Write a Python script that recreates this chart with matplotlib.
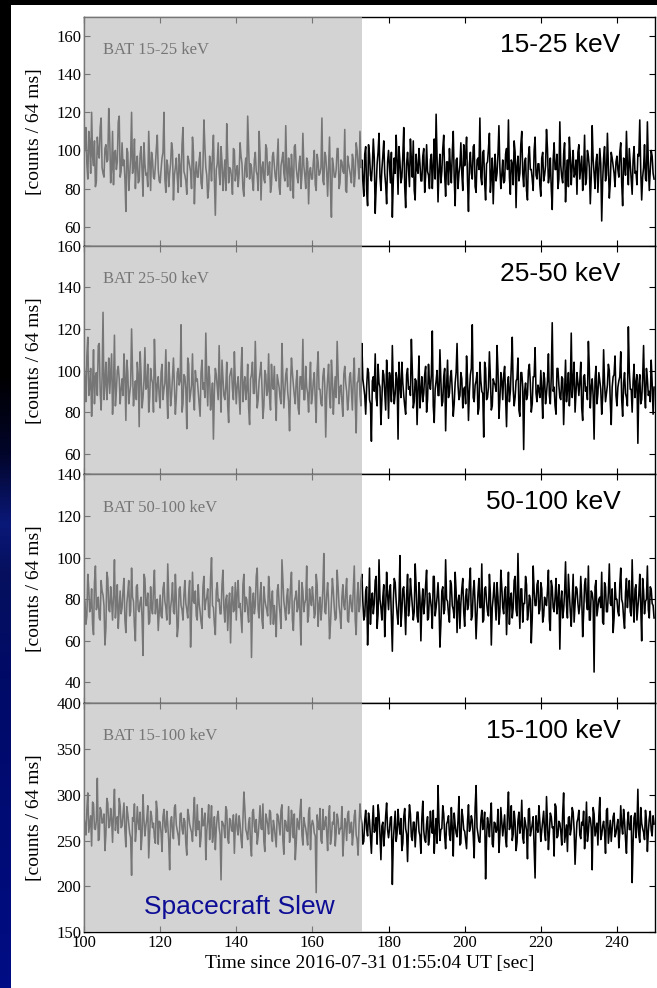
import matplotlib
matplotlib.use('Agg')
import matplotlib.pyplot as plt
import numpy as np
from matplotlib.colors import LinearSegmentedColormap

# BAT light curves: one value every 0.25 s from t = 100 s.
# "_a" holds the samples at 100.0, 100.5, ... and "_b" those at 100.25, 100.75, ...
t_start = 100.0
bin_sec = 0.25
slew_end = 173.0

rate_15_25_a = """
98 112 85 104 120 92 81 107 96 117 88 101 94 122 83 110 99 90 115 86
104 95 68 99 87 120 91 80 97 84 102 76 93 88 110 79 95 85 101 90
83 96 120 78 92 88 104 74 91 86 98 81 112 87 77 95 89 107 72 94
86 99 80 116 91 75 97 84 108 66 93 88 102 79 95 114 83 90 77 100
89 81 104 93 76 96 118 85 91 79 99 87 110 74 94 83 101 89 78 97
92 84 106 77 95 88 113 81 90 98 75 103 86 93 80 109 87 96 72 91
85 100 79 94 88 117 82 97 76 107 65 92 86 101 80 95 89 111 78 93
87 98 81 104 92 110 95 76 102 71 98 84 106 67 93 109 79 97 88 72
100 83 65 96 108 77 94 86 112 70 99 81 95 105 74 90 101 84 97 78
103 87 95 80 106 119 73 98 89 108 76 94 101 83 110 71 96 88 104 79
92 107 68 99 85 103 78 96 117 82 100 74 94 109 86 72 98 88 113 80
95 84 101 116 77 93 105 70 97 88 110 81 96 74 102 90 79 107 85 93
76 99 87 111 83 96 69 104 90 80 115 86 98 73 95 107 82 100 88 77
103 91 79 108 85 97 72 113 88 94 78 101 63 96 84 109 75 99 92 81
97 86 104 71 95 110 82 93 77 102 89 98 116 74 91 85 115 79 100 88
"""
rate_15_25_b = """
101 93 110 88 97 105 84 99 112 91 86 103 95 108 90 82 100 94 118 89
92 85 101 79 96 88 106 93 83 98 90 104 87 81 95 99 86 92 108 84
90 99 85 95 81 93 100 87 96 78 91 103 89 84 97 92 80 99 88 86
95 83 92 102 87 80 93 98 85 90 104 82 94 88 79 96 91 86 101 84
92 88 97 80 91 86 101 93 84 95 89 79 98 91 85 103 87 94 82 99
86 95 81 92 99 84 90 96 79 88 102 91 83 97 87 92 80 94 89 85
94 82 98 87 91 84 99 89 92 80 96 86 90 101 83 94 88 79 97 90
83 95 88 100 85 91 84 98 79 103 87 92 96 81 99 86 90 105 82 94
91 99 84 88 95 102 83 97 81 93 90 106 86 79 98 88 93 84 101 87
89 80 98 92 85 97 90 83 101 87 94 82 91 99 86 95 80 92 88 103
97 84 93 88 102 81 95 90 86 99 83 93 101 78 96 89 84 98 91 87
83 98 90 86 95 82 99 92 84 103 88 94 79 97 90 85 100 87 93 82
96 84 92 101 87 80 95 90 98 85 92 83 104 88 81 97 92 86 95 99
85 97 89 82 100 91 86 95 80 98 89 93 84 102 87 91 83 96 88 94
90 99 83 96 87 92 101 85 95 88 82 97 90 86 103 84 93 89 97 85
"""

rate_25_50_a = """
104 85 116 92 78 110 97 88 113 81 128 94 86 106 99 79 117 90 102 84
96 108 76 99 89 120 83 95 104 73 98 87 111 92 80 101 94 115 85 97
82 103 91 110 77 96 88 106 79 99 93 122 84 97 72 103 89 108 81 95
90 78 105 94 118 83 97 87 67 101 92 112 80 96 86 104 75 99 91 109
84 97 79 111 93 86 103 74 98 89 114 82 95 104 77 100 88 108 81 93
102 76 95 87 113 82 98 90 71 106 93 84 100 79 97 115 86 92 80 104
88 99 75 109 91 83 101 68 96 87 105 79 97 114 84 93 78 102 90 86
99 81 106 70 95 88 113 92 79 101 86 66 97 108 83 94 74 100 89 105
77 96 112 84 99 67 93 104 88 79 101 92 115 82 96 74 107 90 85 98
80 103 91 119 75 95 88 110 83 97 71 105 89 100 78 94 113 86 99 82
92 107 76 98 122 85 95 79 104 90 68 101 87 109 81 96 93 112 77 99
86 102 73 97 90 116 83 95 106 78 99 62 94 88 103 80 97 111 85 91
100 77 96 89 108 84 123 92 79 101 87 97 74 105 91 83 118 95 80 99
88 104 76 98 92 114 82 96 67 102 89 95 79 110 85 93 100 74 97 107
83 95 109 78 99 87 121 91 80 103 94 65 98 86 112 82 96 90 105 79
"""
rate_25_50_b = """
96 107 88 101 93 84 99 112 90 97 86 104 95 89 108 92 83 100 96 91
88 97 105 84 93 100 90 86 98 109 82 95 91 103 87 96 80 99 93 88
99 86 94 90 104 83 97 92 87 101 95 80 98 91 106 85 93 88 100 96
84 99 91 87 96 102 81 94 90 98 86 93 105 88 92 83 97 101 86 94
93 88 100 85 97 91 82 96 104 89 94 86 99 92 83 98 90 87 103 91
87 98 92 84 96 90 101 85 93 99 88 95 82 97 91 86 102 89 94 84
95 86 100 91 84 97 93 88 103 82 96 90 87 99 92 85 98 94 81 97
90 97 85 94 101 83 96 88 92 99 84 95 90 87 103 92 86 98 81 96
99 85 92 89 96 104 87 94 83 98 91 88 100 85 95 92 82 97 89 102
86 94 98 83 91 100 88 95 85 101 92 87 97 90 84 99 93 88 96 91
84 96 90 101 87 93 99 82 95 89 104 86 92 97 83 94 90 100 86 95
98 88 93 85 102 91 87 96 81 99 92 90 86 100 94 84 97 89 93 87
91 99 84 95 88 97 90 83 101 93 86 96 90 85 99 92 87 104 89 94
95 82 97 90 86 101 92 88 96 84 99 91 87 94 89 103 85 92 98 88
92 97 86 94 89 83 100 91 95 87 98 93 84 96 90 101 88 85 94 92
"""

rate_50_100_a = """
80 68 92 74 85 63 96 77 71 89 82 58 93 75 86 70 99 78 66 84
76 90 64 83 72 95 79 60 87 74 81 53 90 77 68 86 73 94 79 65
82 71 88 76 97 68 80 74 92 62 85 77 70 89 75 83 57 93 78 72
87 74 66 91 79 85 71 100 76 63 88 80 73 94 69 82 77 59 86 75
70 89 78 64 92 81 74 86 52 83 77 95 71 88 66 80 75 91 68 84
77 62 87 73 99 79 70 85 76 93 65 81 74 89 58 84 78 96 72 80
86 71 92 67 81 76 102 73 88 61 79 84 70 94 77 66 87 75 90 69
82 74 96 63 88 77 92 70 84 58 95 79 73 89 66 99 76 81 62 93
75 87 55 90 79 68 101 74 86 63 92 77 83 70 97 72 88 60 85 78
94 71 80 66 91 76 88 57 84 73 99 79 69 87 75 93 64 82 78 90
67 85 77 95 72 89 61 83 76 97 70 86 74 92 58 81 79 88 68 94
76 84 63 93 80 71 89 75 102 66 85 78 91 70 82 59 96 77 87 73
88 69 81 77 94 65 86 74 90 79 56 84 75 98 71 83 67 92 78 85
73 91 62 87 79 96 70 83 45 89 76 81 93 68 86 74 97 77 64 88
80 72 95 78 66 90 83 74 99 69 87 76 92 60 84 79 96 71 85 77
"""
rate_50_100_b = """
79 72 85 76 68 88 75 81 70 84 77 66 90 74 79 82 71 87 76 73
84 70 78 89 74 81 67 86 75 79 71 92 77 83 69 76 85 73 80 74
72 85 79 70 83 76 88 73 80 67 86 75 82 78 71 89 74 79 84 70
78 69 86 75 81 72 90 77 68 84 79 73 87 76 80 65 83 78 74 88
83 76 71 87 74 80 69 85 78 73 91 75 82 70 86 77 72 84 79 68
71 84 78 66 89 75 81 73 86 70 79 84 76 72 88 74 80 69 85 77
80 73 87 77 70 85 74 82 79 68 90 76 71 86 73 81 77 84 70 79
76 85 70 81 74 89 79 72 86 75 68 83 78 91 73 80 70 87 76 82
84 71 79 88 73 80 67 85 76 82 72 90 77 74 86 69 81 78 73 87
70 83 76 91 72 81 78 68 86 75 80 73 89 77 71 84 79 66 85 74
81 75 88 70 84 77 73 90 76 69 85 79 72 83 76 88 70 81 74 86
73 86 79 68 83 76 91 72 80 85 69 78 87 74 80 71 84 77 89 75
85 72 78 84 70 89 76 81 73 87 79 71 83 77 92 74 80 69 86 78
77 81 73 90 75 70 84 79 86 72 80 76 69 88 74 83 78 85 71 80
74 87 80 71 83 76 89 72 79 85 70 82 77 90 73 80 75 86 78 71
"""

rate_15_100_a = """
275 256 302 268 244 290 262 318 251 283 270 239 296 264 285 248 306 273 258 288
266 291 243 279 258 212 271 249 287 262 240 300 255 274 231 282 264 253 293 246
270 238 284 259 268 218 276 252 289 261 245 280 257 271 234 278 263 249 297 255
262 243 285 267 229 273 251 288 258 240 276 264 207 269 253 283 247 272 260 236
279 256 268 242 303 262 251 275 233 284 259 246 270 263 290 238 274 257 281 249
265 243 277 256 289 235 271 260 248 283 253 229 274 262 295 245 268 255 280 240
272 258 193 266 285 247 262 276 239 288 254 268 244 279 257 263 233 274 250 282
261 245 277 256 234 290 268 249 283 255 272 236 288 261 246 279 229 270 258 291
253 275 202 266 249 284 257 239 276 263 227 289 254 270 243 281 260 236 293 251
268 245 282 258 236 274 310 250 263 279 241 271 256 286 233 267 254 298 247 276
260 241 289 264 272 231 310 257 248 283 268 208 275 254 291 243 269 262 237 286
255 278 243 303 266 250 282 239 272 258 294 247 268 230 285 261 276 209 264 288
249 271 259 298 240 280 264 233 287 255 269 245 302 258 238 276 263 281 224 270
283 252 267 241 292 259 274 218 279 262 245 297 256 271 236 285 260 249 276 254
266 242 288 257 271 236 281 262 204 275 253 306 248 269 259 283 238 274 261 277
"""
rate_15_100_b = """
268 284 259 277 292 263 272 250 286 269 279 257 291 266 274 282 261 276 296 264
279 260 287 268 253 275 290 262 270 281 256 273 266 288 258 277 269 247 283 271
258 276 265 282 250 271 260 286 267 255 279 263 274 247 284 268 259 276 262 289
271 254 266 280 260 289 268 248 276 263 282 256 271 265 287 252 274 261 278 267
262 277 252 271 285 258 269 246 281 266 273 255 288 262 249 279 267 283 259 272
254 279 266 283 250 272 261 287 257 270 279 247 268 282 256 275 263 245 286 266
268 255 278 262 250 284 267 259 276 246 270 281 259 273 263 287 252 269 278 258
270 258 283 251 267 276 246 272 262 280 253 268 259 275 289 256 266 244 277 262
262 276 250 282 258 268 274 247 285 257 266 279 250 270 262 281 255 274 261 248
276 254 266 283 259 247 271 262 288 255 268 277 250 263 280 258 272 245 284 262
250 271 260 277 255 286 264 249 273 262 281 253 267 275 246 270 259 284 256 271
267 252 279 262 288 257 270 248 281 266 253 275 261 284 255 268 244 277 259 270
261 282 250 270 258 276 265 290 253 271 260 280 248 267 275 256 286 262 250 274
256 270 282 260 249 276 264 286 255 269 277 251 266 259 283 247 272 263 280 258
273 259 266 284 252 270 262 277 249 280 265 256 286 263 251 272 260 282 255 268
"""

band_names = ['15-25 keV', '25-50 keV', '50-100 keV', '15-100 keV']
band_rates = [(rate_15_25_a, rate_15_25_b), (rate_25_50_a, rate_25_50_b),
              (rate_50_100_a, rate_50_100_b), (rate_15_100_a, rate_15_100_b)]
y_limits = [(50, 170), (50, 160), (30, 140), (150, 400)]
y_ticks = [[60, 80, 100, 120, 140, 160],
           [60, 80, 100, 120, 140, 160],
           [40, 60, 80, 100, 120, 140],
           [150, 200, 250, 300, 350, 400]]
x_ticks = [100, 120, 140, 160, 180, 200, 220, 240]

serif = 'Liberation Serif'
sans = 'Liberation Sans'

fig = plt.figure(figsize=(6.57, 9.88), dpi=100, facecolor='white')

# slide background showing at the left and top edges
bg = fig.add_axes([0, 0, 11 / 657, 1])
bg_cmap = LinearSegmentedColormap.from_list('slide', [
    (0.0, '#000000'), (0.38, '#000000'), (0.46, '#02052a'), (0.53, '#0a1878'),
    (0.58, '#06105e'), (0.7, '#000a68'), (1.0, '#000d84')])
bg.imshow(np.linspace(0, 1, 256).reshape(-1, 1), aspect='auto', cmap=bg_cmap)
bg.axis('off')
top = fig.add_axes([0, 1 - 5 / 988, 1, 5 / 988])
top.set_facecolor('black')
top.set_xticks([])
top.set_yticks([])
for s in top.spines.values():
    s.set_visible(False)

left, right = 84 / 657, 655 / 657
y_top, y_bot = 1 - 17 / 988, 1 - 932 / 988
h = (y_top - y_bot) / 4

for i in range(4):
    ax = fig.add_axes([left, y_top - (i + 1) * h, right - left, h])
    rate_a = np.array(band_rates[i][0].split(), dtype=float)
    rate_b = np.array(band_rates[i][1].split(), dtype=float)
    rate = np.column_stack([rate_a, rate_b]).ravel()
    time = t_start + bin_sec * np.arange(len(rate))
    ax.plot(time, rate, color='black', lw=1.15)
    ax.set_xlim(100, 250)
    ax.set_ylim(*y_limits[i])
    ax.set_yticks(y_ticks[i])
    ax.set_xticks(x_ticks)
    ax.tick_params(direction='in', top=True, right=True, length=4, width=0.8,
                   labelsize=12, pad=2)
    for lab in ax.get_yticklabels() + ax.get_xticklabels():
        lab.set_fontfamily(serif)
    if i < 3:
        ax.set_xticklabels([])
    for s in ax.spines.values():
        s.set_linewidth(1.0)
    ax.set_ylabel('[counts / 64 ms]', fontsize=14, family=serif)
    ax.yaxis.set_label_coords(-0.072, 0.5)
    ax.text(0.033, 0.855, 'BAT ' + band_names[i], transform=ax.transAxes,
            fontsize=12, family=serif, color='black', va='center', ha='left')
    ax.text(0.94, 0.878, band_names[i], transform=ax.transAxes,
            fontsize=19, family=sans, color='black', va='center', ha='right')
    # slew interval greyed out on top of everything
    ax.axvspan(100, slew_end, color=(0.73, 0.73, 0.73), alpha=0.64, lw=0,
               zorder=10, clip_on=False)
    if i == 3:
        ax.set_xlabel('Time since 2016-07-31 01:55:04 UT [sec]', fontsize=14,
                      family=serif, labelpad=3)
        ax.text(140.8, 177, 'Spacecraft Slew', fontsize=19, family=sans,
                color='#0d0d96', ha='center', va='center', zorder=11)

fig.savefig('out.png', dpi=100, facecolor=fig.get_facecolor())
